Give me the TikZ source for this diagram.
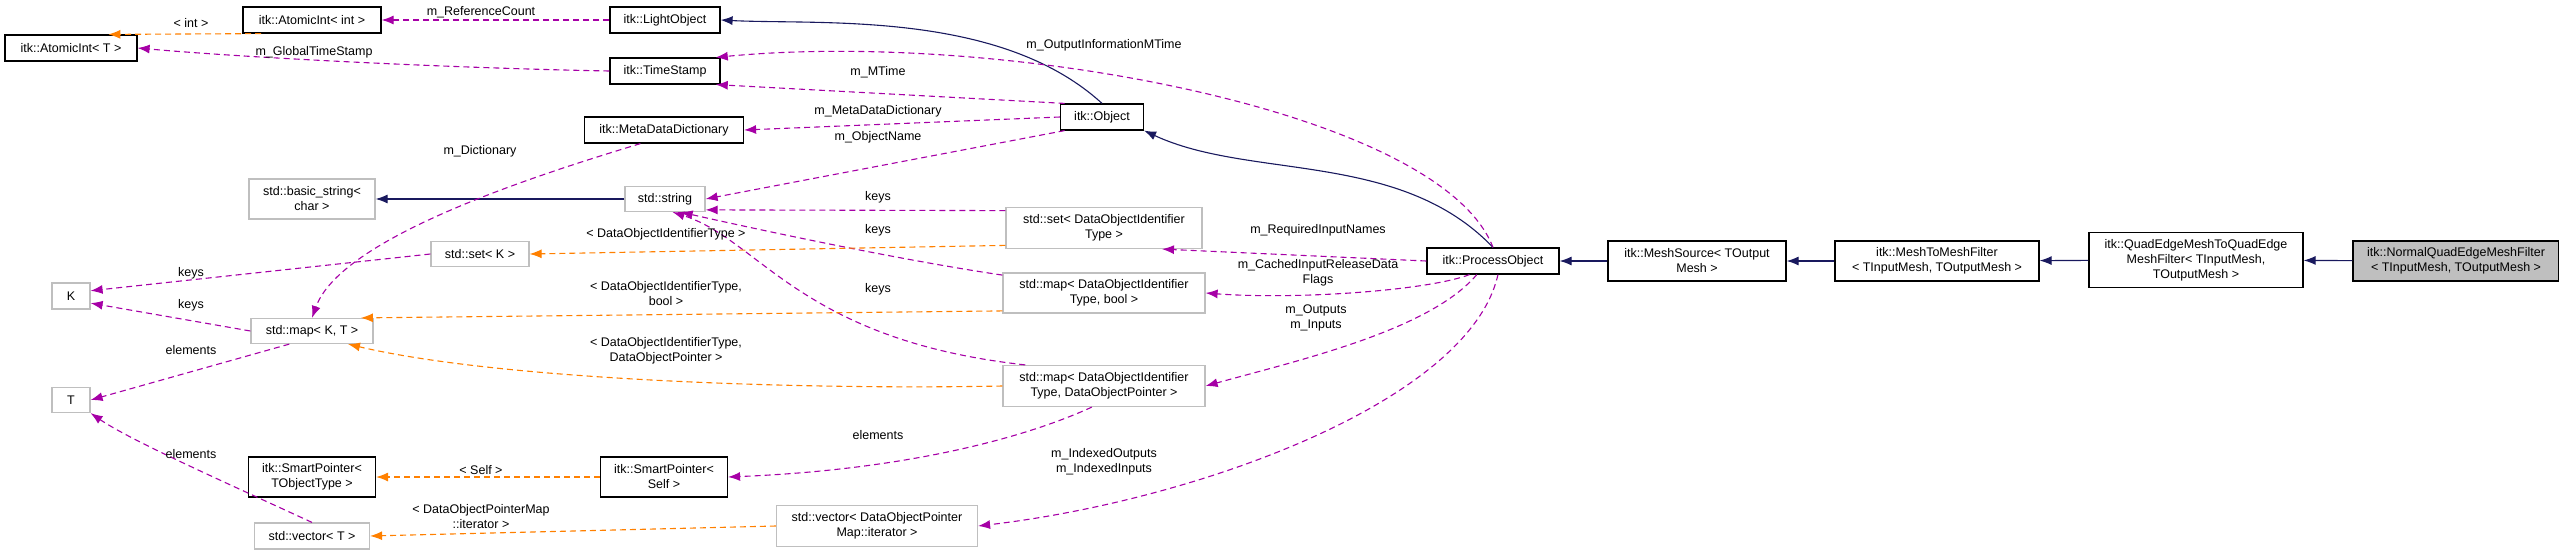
\documentclass[tikz,border=0pt]{standalone}
\usepackage{fontspec}
\setmainfont{Liberation Sans}
\usetikzlibrary{arrows.meta}

\tikzset{
  cls/.style={draw=black,line width=1.2pt,fill=white,align=center,inner sep=1pt,font=\fontsize{12.5}{15}\selectfont},
  ext/.style={draw=black!25,line width=1.2pt,fill=white,align=center,inner sep=1pt,font=\fontsize{12.5}{15}\selectfont},
  lbl/.style={align=center,inner sep=0pt,font=\fontsize{12.5}{15}\selectfont},
  uses/.style={draw=violet!70!magenta,line width=1.1pt,dash pattern=on 6pt off 4pt,-{Latex[length=12pt,width=9pt]}},
  tmpl/.style={draw=orange,line width=1.1pt,dash pattern=on 6pt off 4pt,-{Latex[length=12pt,width=9pt]}},
  inh/.style={draw=blue!30!black!90,line width=1.1pt,-{Latex[length=12pt,width=9pt]}}
}
\colorlet{violet}{violet}

\begin{document}
\begin{tikzpicture}[x=1pt,y=-1pt]

\useasboundingbox (0,0) rectangle (2559,552);

% classes
\node[cls,minimum width=132,minimum height=26] (atomict) at (71,48) {itk::AtomicInt< T >};
\node[cls,minimum width=138,minimum height=26] (atomicint) at (312,20) {itk::AtomicInt< int >};
\node[cls,minimum width=110,minimum height=26] (light) at (665,20) {itk::LightObject};
\node[cls,minimum width=110,minimum height=26] (stamp) at (665,71) {itk::TimeStamp};
\node[cls,minimum width=159,minimum height=26] (mdd) at (664,130) {itk::MetaDataDictionary};
\node[cls,minimum width=83,minimum height=26] (object) at (1102,117) {itk::Object};
\node[ext,minimum width=126,minimum height=40] (basic) at (312,199) {std::basic\_string<\\char >};
\node[ext,minimum width=80,minimum height=25] (string) at (665,199) {std::string};
\node[ext,minimum width=98,minimum height=25] (setk) at (480,254) {std::set< K >};
\node[ext,minimum width=38,minimum height=26] (k) at (71,296) {K};
\node[ext,minimum width=122,minimum height=25] (mapkt) at (312,331) {std::map< K, T >};
\node[ext,minimum width=38,minimum height=25] (t) at (71,400) {T};
\node[cls,minimum width=127,minimum height=40] (spt) at (312,477) {itk::SmartPointer<\\TObjectType >};
\node[cls,minimum width=127,minimum height=40] (sps) at (664,477) {itk::SmartPointer<\\Self >};
\node[ext,minimum width=115,minimum height=26] (vect) at (312,536) {std::vector< T >};
\node[ext,minimum width=201,minimum height=41] (vecdop) at (877,526) {std::vector< DataObjectPointer\\Map::iterator >};
\node[ext,minimum width=196,minimum height=41] (setid) at (1104,228) {std::set< DataObjectIdentifier\\Type >};
\node[ext,minimum width=202,minimum height=40] (mapbool) at (1104,293) {std::map< DataObjectIdentifier\\Type, bool >};
\node[ext,minimum width=202,minimum height=41] (mapdop) at (1104,386) {std::map< DataObjectIdentifier\\Type, DataObjectPointer >};
\node[cls,minimum width=132,minimum height=26] (process) at (1493,261) {itk::ProcessObject};
\node[cls,minimum width=178,minimum height=40] (source) at (1697,261) {itk::MeshSource< TOutput\\Mesh >};
\node[cls,minimum width=204,minimum height=40] (m2m) at (1937,261) {itk::MeshToMeshFilter\\< TInputMesh, TOutputMesh >};
\node[cls,minimum width=214,minimum height=55] (qe2qe) at (2196,260) {itk::QuadEdgeMeshToQuadEdge\\MeshFilter< TInputMesh,\\TOutputMesh >};
\node[cls,fill=black!25,minimum width=206,minimum height=40] (normal) at (2456,261) {itk::NormalQuadEdgeMeshFilter\\< TInputMesh, TOutputMesh >};

% inheritance
\draw[inh] (normal) -- (qe2qe);
\draw[inh] (qe2qe) -- (m2m);
\draw[inh] (m2m) -- (source);
\draw[inh] (source) -- (process);
\draw[inh] (process.north) .. controls (1400,150) and (1250,180) .. (object.south east);
\draw[inh] (object.north) .. controls (1000,10) and (820,25) .. (light.east);
\draw[inh] (string) -- (basic);

% members
\draw[uses] (light) -- (atomicint);
\draw[uses] (stamp.west) .. controls (450,68) and (250,58) .. (atomict.east);
\draw[uses] (object.160) -- (stamp.-15);
\draw[uses] (process.north) .. controls (1440,110) and (1000,30) .. (stamp.15);
\draw[uses] (object.west) -- (mdd.east);
\draw[uses] (object.200) -- (string.east);
\draw[uses] (mdd.-150) .. controls (520,180) and (340,240) .. (mapkt.north);
\draw[uses] (setid.170) -- (string.-15);
\draw[uses] (mapbool.170) .. controls (900,260) and (760,230) .. (string.-40);
\draw[uses] (mapdop.165) .. controls (800,340) and (760,240) .. (string.-60);
\draw[uses] (setk.west) -- (k.15);
\draw[uses] (mapkt.west) -- (k.-20);
\draw[uses] (mapkt.-150) -- (t.east);
\draw[uses] (mapdop.-120) .. controls (1020,440) and (900,470) .. (sps.east);
\draw[uses] (vect.north) .. controls (220,480) and (130,440) .. (t.south east);
\draw[uses] (process.west) -- (setid.-20);
\draw[uses] (process.-150) .. controls (1430,290) and (1300,300) .. (mapbool.east);
\draw[uses] (process.-140) .. controls (1430,330) and (1300,360) .. (mapdop.east);
\draw[uses] (process.-70) .. controls (1470,400) and (1200,500) .. (vecdop.east);

% templates
\draw[tmpl] (atomicint.-165) -- (atomict.20);
\draw[tmpl] (setid.-170) -- (setk.east);
\draw[tmpl] (mapbool.-170) -- (mapkt.15);
\draw[tmpl] (mapdop.west) .. controls (800,390) and (500,380) .. (mapkt.-20);
\draw[tmpl] (sps.west) -- (spt.east);
\draw[tmpl] (vecdop.west) -- (vect.east);

% labels
\node[lbl] at (191,23) {< int >};
\node[lbl] at (481,12) {m\_ReferenceCount};
\node[lbl] at (314,52) {m\_GlobalTimeStamp};
\node[lbl] at (1104,45) {m\_OutputInformationMTime};
\node[lbl] at (878,72) {m\_MTime};
\node[lbl] at (878,111) {m\_MetaDataDictionary};
\node[lbl] at (878,137) {m\_ObjectName};
\node[lbl] at (480,151) {m\_Dictionary};
\node[lbl] at (878,197) {keys};
\node[lbl] at (878,230) {keys};
\node[lbl] at (666,234) {< DataObjectIdentifierType >};
\node[lbl] at (191,273) {keys};
\node[lbl] at (191,305) {keys};
\node[lbl] at (666,294) {< DataObjectIdentifierType,\\bool >};
\node[lbl] at (878,289) {keys};
\node[lbl] at (666,351) {< DataObjectIdentifierType,\\DataObjectPointer >};
\node[lbl] at (191,350) {elements};
\node[lbl] at (878,435) {elements};
\node[lbl] at (191,454) {elements};
\node[lbl] at (481,470) {< Self >};
\node[lbl] at (481,517) {< DataObjectPointerMap\\::iterator >};
\node[lbl] at (1104,462) {m\_IndexedOutputs\\m\_IndexedInputs};
\node[lbl] at (1318,230) {m\_RequiredInputNames};
\node[lbl] at (1318,273) {m\_CachedInputReleaseData\\Flags};
\node[lbl] at (1316,318) {m\_Outputs\\m\_Inputs};

\end{tikzpicture}
\end{document}
